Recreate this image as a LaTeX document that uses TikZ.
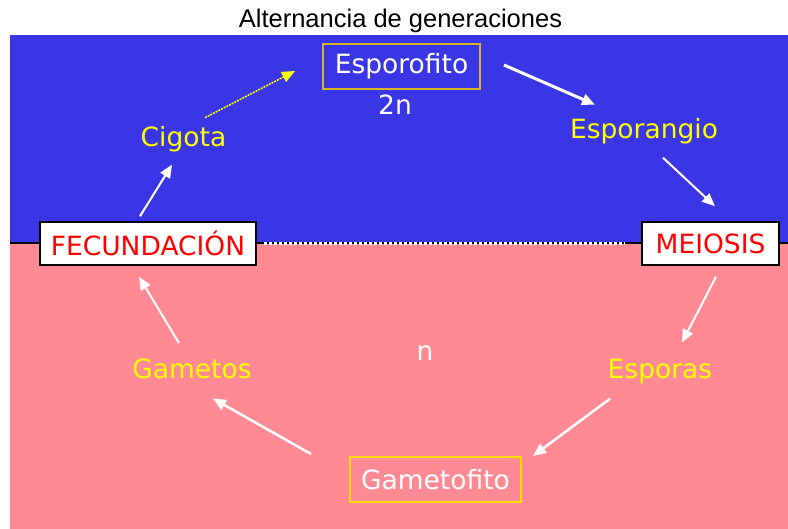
\documentclass[tikz,border=0pt]{standalone}
\usepackage{fontspec}
\setmainfont{DejaVu Sans}
\newfontfamily\titlefont{Liberation Sans}
\usetikzlibrary{arrows.meta}
\definecolor{diploidblue}{RGB}{58,54,230}
\definecolor{haploidpink}{RGB}{255,138,148}
\definecolor{labelyellow}{RGB}{255,255,0}
\definecolor{framegold}{RGB}{214,182,40}
\definecolor{framelemon}{RGB}{255,222,0}

\begin{document}
\begin{tikzpicture}[
    x=1pt, y=-1pt,
    stage/.style={text=labelyellow, inner sep=0pt, anchor=base, font=\fontsize{26.5}{30}\selectfont},
    phase/.style={draw=#1, line width=2pt, text=white, minimum height=45pt, inner sep=0pt,
                  font=\fontsize{26.5}{30}\selectfont},
    event/.style={draw=black, fill=white, line width=1.5pt, text=red, minimum height=43pt, inner sep=0pt,
                  font=\fontsize{26.5}{30}\selectfont},
    flow/.style={draw=white, line width=2pt, -{Triangle[length=13pt,width=11pt]}}
]
    \useasboundingbox (0,0) rectangle (788,529);
    \fill[diploidblue] (10,35) rectangle (788,243.5);
    \fill[haploidpink] (10,243.5) rectangle (788,529);
    \draw[black, line width=2pt] (10,243.5) -- (788,243.5);

    \node[font=\titlefont\fontsize{25.5}{28}\selectfont, anchor=base] (title) at (400.5,28) {Alternancia de generaciones};

    % diploid half
    \node[phase=framegold, minimum width=157pt] (esporofito) at (401.5,66.5) {Esporofito};
    \node[stage, text=white] (dosn) at (395,115) {2n};
    \node[stage] (esporangio) at (644,139) {Esporangio};
    \node[stage] (cigota) at (183.5,147) {Cigota};

    % the two events on the border
    \node[event, minimum width=216pt] (fecundacion) at (148,243.5) {FECUNDACIÓN};
    \node[event, minimum width=137pt] (meiosis) at (710.5,243.5) {MEIOSIS};
    \draw[white, line width=3pt, dash pattern=on 3pt off 2pt] ([xshift=7pt]fecundacion.east) -- ([xshift=-17pt]meiosis.west);

    % haploid half
    \node[stage, text=white] (unon) at (425,361) {n};
    \node[stage] (esporas) at (660,379) {Esporas};
    \node[stage] (gametos) at (192,379) {Gametos};
    \node[phase=framelemon, minimum width=171pt] (gametofito) at (435.5,479.5) {Gametofito};

    % cycle
    \draw[draw=labelyellow, line width=1.5pt, dash pattern=on 2pt off 1pt, -{Triangle[length=13pt,width=11pt]}]
        ([shift={(21.5,-9)}]cigota.north) -- ([shift={(-27,4.5)}]esporofito.west);
    \draw[flow, line width=3pt] ([shift={(23,-1.5)}]esporofito.east) -- ([shift={(-49,-14)}]esporangio.north);
    \draw[flow] ([shift={(19,13)}]esporangio.south) -- ([shift={(4.5,-15)}]meiosis.north);
    \draw[flow] ([shift={(5.5,11)}]meiosis.south) -- ([shift={(22,-17)}]esporas.north);
    \draw[flow, line width=2.5pt] ([shift={(-50,14)}]esporas.south) -- ([shift={(11,0)}]gametofito.north east);
    \draw[flow, line width=2.5pt] ([shift={(-38,-2)}]gametofito.north west) -- ([shift={(21,19)}]gametos.south);
    \draw[flow] ([shift={(-13,-16)}]gametos.north) -- ([shift={(-9,11)}]fecundacion.south);
    \draw[flow] ([shift={(-8,-5)}]fecundacion.north) -- ([shift={(-11.5,12)}]cigota.south);
\end{tikzpicture}
\end{document}
